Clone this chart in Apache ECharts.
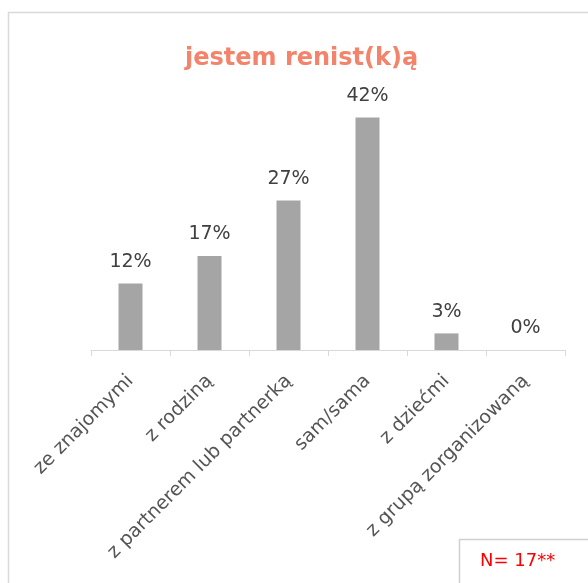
<!DOCTYPE html>
<html><head><meta charset="utf-8">
<script src="https://cdn.jsdelivr.net/npm/echarts@6/dist/echarts.min.js"></script>
<style>html,body{margin:0;padding:0;background:#fff}#c{width:588px;height:583px}</style>
</head><body><div id="c"></div>
<script>
var categories = ['ze znajomymi', 'z rodziną', 'z partnerem lub partnerką', 'sam/sama', 'z dziećmi', 'z grupą zorganizowaną'];
var values = [12, 17, 27, 42, 3, 0];
var titleText = 'jestem renist(k)ą';
var noteText = 'N= 17**';
var FONT = 'DejaVu Sans';
var chart = echarts.init(document.getElementById('c'));
chart.setOption({
  animation: false,
  backgroundColor: '#fff',
  title: {
    text: titleText, left: 180, top: 42,
    textStyle: {color: '#F4836B', fontSize: 24, fontWeight: 'bold', fontFamily: FONT}
  },
  grid: {left: 91, right: 23, top: 101, bottom: 233, containLabel: false},
  xAxis: {
    type: 'category', data: categories,
    axisLine: {lineStyle: {color: '#d9d9d9', width: 1}},
    axisTick: {show: true, length: 6, lineStyle: {color: '#d9d9d9'}},
    axisLabel: {rotate: 45, color: '#555555', fontSize: 19, fontFamily: FONT, margin: 28, interval: 0}
  },
  yAxis: {type: 'value', min: 0, max: 45, show: false, splitLine: {show: false}},
  series: [{
    type: 'bar', data: values, barWidth: 24,
    itemStyle: {color: '#a5a5a5'},
    label: {show: true, position: 'top', distance: 12, formatter: '{c}%', color: '#404040', fontSize: 19, fontFamily: FONT}
  }],
  graphic: [
    {type: 'rect', shape: {x: 8.5, y: 12.5, width: 600, height: 600}, style: {fill: 'none', stroke: '#d9d9d9', lineWidth: 1.5}, silent: true, z: -1},
    {type: 'rect', shape: {x: 459.5, y: 539.5, width: 200, height: 100}, style: {fill: '#fff', stroke: '#d0d0d0', lineWidth: 1.5}, silent: true},
    {type: 'text', x: 480, y: 552, style: {text: noteText, fill: '#FF0000', fontSize: 18, fontFamily: FONT}, silent: true}
  ]
});
</script></body></html>
